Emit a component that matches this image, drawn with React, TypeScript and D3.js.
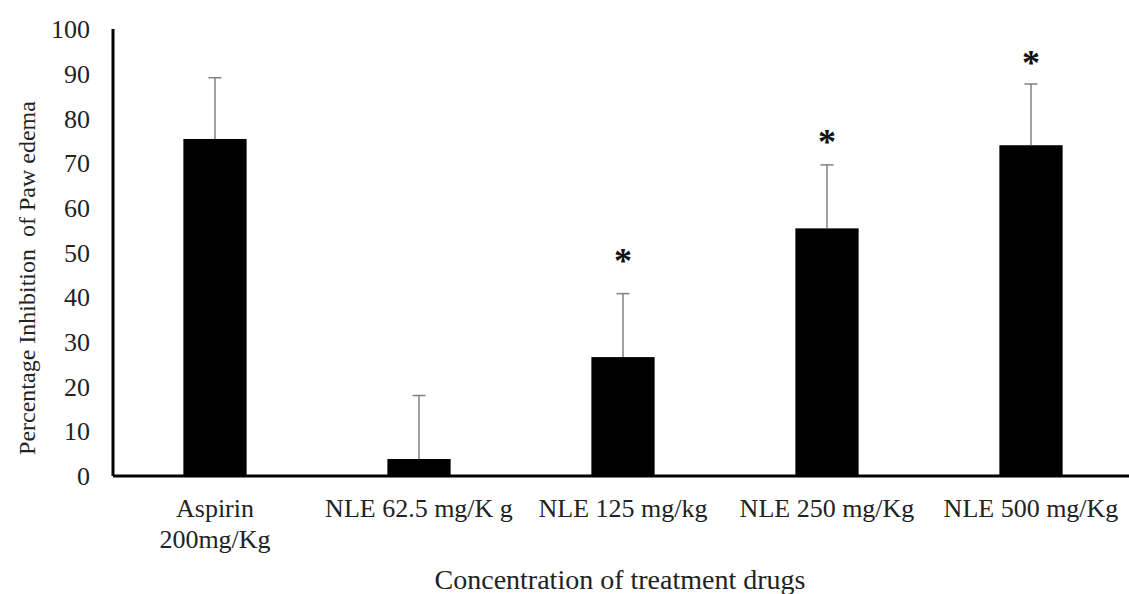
import React, { useRef, useEffect } from 'react';
import * as d3 from 'd3';

const categories: string[][] = [
    ['Aspirin', '200mg/Kg'],
    ['NLE 62.5 mg/K g'],
    ['NLE 125 mg/kg'],
    ['NLE 250 mg/Kg'],
    ['NLE 500 mg/Kg'],
];
const means = [75.4, 3.8, 26.6, 55.4, 74.0];
const errorTops = [89.1, 18.0, 40.8, 69.6, 87.7];
const significant = [false, false, true, true, true];
const starLevels = [0, 0, 49.2, 75.9, 93.5];
const yTicks = [0, 10, 20, 30, 40, 50, 60, 70, 80, 90, 100];

const W = 1129;
const H = 594;
const FONT = 'Liberation Serif, Times New Roman, DejaVu Serif, serif';

const App: React.FC = () => {
    const svgRef = useRef<SVGSVGElement | null>(null);

    useEffect(() => {
        const svg = d3.select(svgRef.current);
        svg.selectAll('*').remove();

        const margin = { top: 29, right: -4, bottom: 118, left: 113 };
        const plotW = W - margin.left - margin.right;
        const plotH = H - margin.top - margin.bottom;

        const g = svg.append('g').attr('transform', `translate(${margin.left},${margin.top})`);

        const x = d3
            .scaleBand<number>()
            .domain(d3.range(categories.length))
            .range([0, plotW])
            .paddingInner(0.69)
            .paddingOuter(0.345);

        const y = d3.scaleLinear().domain([0, 100]).range([plotH, 0]);

        // y tick labels, no tick marks
        g.selectAll('.ytick')
            .data(yTicks)
            .enter()
            .append('text')
            .attr('x', -23)
            .attr('y', d => y(d))
            .attr('dy', '0.35em')
            .attr('text-anchor', 'end')
            .attr('font-size', 26)
            .attr('fill', '#222')
            .text(d => d);

        g.selectAll('.bar')
            .data(means)
            .enter()
            .append('rect')
            .attr('x', (d, i) => x(i)!)
            .attr('width', x.bandwidth())
            .attr('y', d => y(d))
            .attr('height', d => plotH - y(d))
            .attr('fill', '#000');

        // error bars + asterisks
        const cap = 13;
        errorTops.forEach((e, i) => {
            const cx = x(i)! + x.bandwidth() / 2;
            g.append('line')
                .attr('x1', cx).attr('x2', cx)
                .attr('y1', y(means[i])).attr('y2', y(e))
                .attr('stroke', '#808080').attr('stroke-width', 1.5);
            g.append('line')
                .attr('x1', cx - cap / 2).attr('x2', cx + cap / 2)
                .attr('y1', y(e)).attr('y2', y(e))
                .attr('stroke', '#808080').attr('stroke-width', 1.5);
            if (significant[i]) {
                g.append('text')
                    .attr('x', cx)
                    .attr('y', y(starLevels[i]))
                    .attr('dy', '0.48em')
                    .attr('text-anchor', 'middle')
                    .attr('font-size', 36)
                    .attr('font-weight', 'bold')
                    .attr('fill', '#111')
                    .text('*');
            }
        });

        g.append('line')
            .attr('x1', 0).attr('x2', 0)
            .attr('y1', 0).attr('y2', plotH)
            .attr('stroke', '#000').attr('stroke-width', 3);
        g.append('line')
            .attr('x1', 0).attr('x2', W)
            .attr('y1', plotH).attr('y2', plotH)
            .attr('stroke', '#000').attr('stroke-width', 3);

        categories.forEach((lines, i) => {
            const cx = x(i)! + x.bandwidth() / 2;
            const t = g.append('text')
                .attr('text-anchor', 'middle')
                .attr('font-size', 26)
                .attr('fill', '#222');
            lines.forEach((ln, j) => {
                t.append('tspan')
                    .attr('x', cx)
                    .attr('y', plotH + 41 + j * 31)
                    .text(ln);
            });
        });

        svg.append('text')
            .attr('x', 620)
            .attr('y', 589)
            .attr('text-anchor', 'middle')
            .attr('font-size', 28)
            .attr('fill', '#222')
            .text('Concentration of treatment drugs');

        svg.append('text')
            .attr('transform', 'translate(35,278) rotate(-90)')
            .attr('text-anchor', 'middle')
            .attr('font-size', 24)
            .attr('fill', '#222')
            .style('white-space', 'pre')
            .text('Percentage Inhibition  of Paw edema');
    }, []);

    return (
        <div style={{ position: 'absolute', left: 0, top: 0 }}>
            <svg
                ref={svgRef}
                width={W}
                height={H}
                fontFamily={FONT}
                style={{ display: 'block', background: '#fff' }}
            />
        </div>
    );
};

export default App;
